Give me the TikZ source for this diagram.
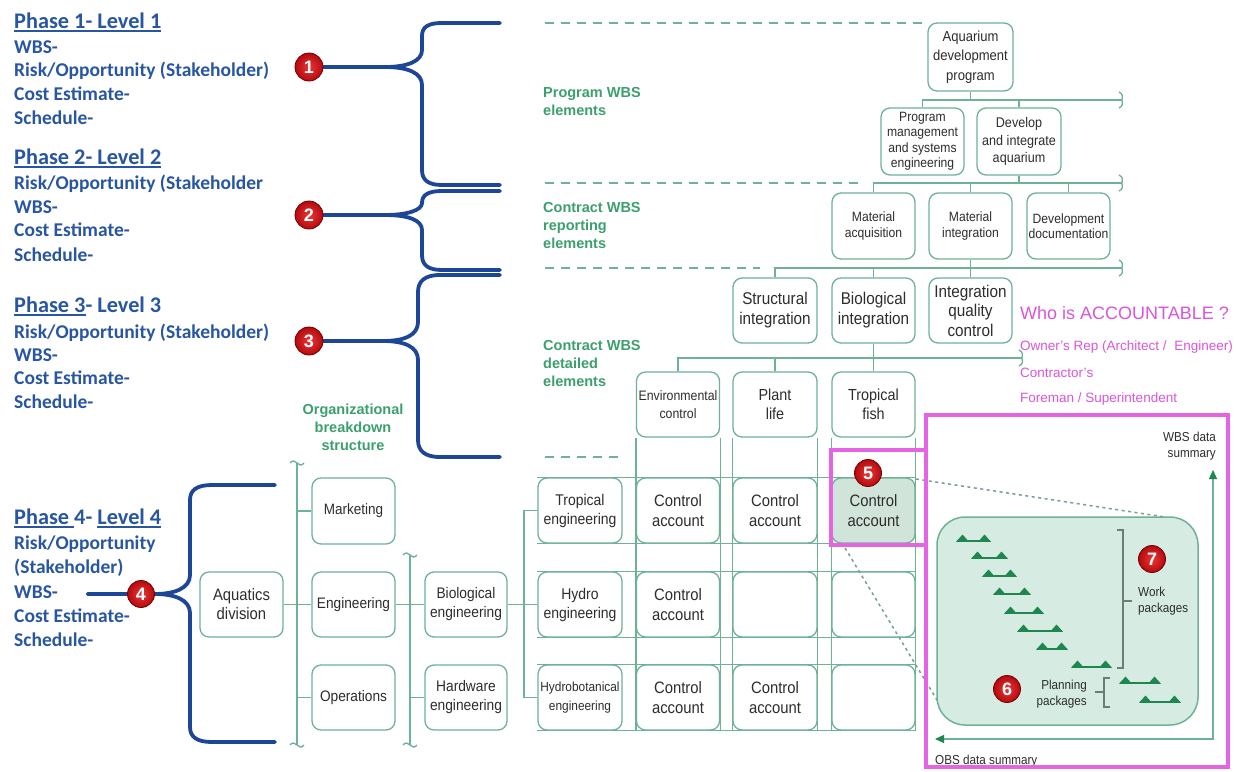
\documentclass[tikz,border=0pt]{standalone}
\usepackage{fontspec}
\setmainfont{Liberation Sans}
\newfontfamily\phfont{Carlito}
\newfontfamily\bxfont[FakeStretch=0.9]{Liberation Sans}
\usetikzlibrary{arrows.meta,shadings}
\pgfdeclarelayer{back}
\pgfdeclarelayer{bg}
\pgfsetlayers{back,bg,main}

\definecolor{phblue}{RGB}{40,86,160}
\definecolor{brblue}{RGB}{30,70,150}
\definecolor{gline}{RGB}{110,178,150}
\definecolor{glabel}{RGB}{60,160,110}
\definecolor{btext}{RGB}{45,45,45}
\definecolor{magtxt}{RGB}{218,85,218}
\definecolor{mframe}{RGB}{228,100,228}
\definecolor{pkgfill}{RGB}{214,236,226}
\definecolor{cafill}{RGB}{208,228,218}
\definecolor{gbarc}{RGB}{30,135,80}
\definecolor{dotc}{RGB}{120,160,140}
\definecolor{brk}{RGB}{110,125,115}
\definecolor{numin}{RGB}{235,55,55}
\definecolor{numout}{RGB}{180,10,15}
\definecolor{numedge}{RGB}{110,0,0}

\newsavebox\ulbox
\newcommand\phul[1]{\sbox\ulbox{#1}\rlap{\rule[-3.4pt]{\wd\ulbox}{1.5pt}}\usebox\ulbox}

\tikzset{
  box/.style={draw=gline, line width=1.3pt, rounded corners=9pt, fill=white, align=center,
    inner sep=1pt, text=btext, minimum width=83pt, minimum height=65pt},
  fz/.style 2 args={font=\bxfont\fontsize{#1}{#2}\selectfont},
  conn/.style={draw=gline, line width=1.3pt},
  sepline/.style={draw=gline, line width=1.3pt, dash pattern=on 9pt off 7pt},
  brace/.style={draw=brblue, line width=3.8pt, line cap=round, line join=round},
  numc/.style={circle, inner sep=0pt, minimum size=27pt, draw=numedge, line width=0.8pt,
    inner color=numin, outer color=numout, text=white, font=\bfseries\fontsize{18}{18}\selectfont},
  lt/.style={anchor=base west, inner sep=0pt, text=phblue, font=\phfont\bfseries\fontsize{19.5}{24}\selectfont},
  lth/.style={lt, font=\phfont\bfseries\fontsize{22.3}{24}\selectfont},
  glab/.style={align=left, anchor=base west, inner sep=0pt, text=glabel, font=\bfseries\fontsize{14.5}{18}\selectfont},
  mtxt/.style={anchor=base west, inner sep=0pt, text=magtxt},
  small/.style={inner sep=0pt, text=btext, font=\bxfont\fontsize{13}{16}\selectfont},
  mbox/.style={draw=mframe, line width=4pt},
  dotl/.style={draw=dotc, line width=1.5pt, dash pattern=on 3pt off 3.5pt},
  brkl/.style={draw=brk, line width=1.2pt},
  rcap/.pic={\draw[conn] (-3,-8) .. controls (1,-6) and (1,-3) .. (0,0) .. controls (1,3) and (1,6) .. (-3,8);},
  tcap/.pic={\draw[conn] (-7,0) .. controls (-4,-4) and (-2,-1) .. (0,0) .. controls (2,1) and (4,4) .. (7,0);},
  gbar/.pic={
    \fill[gbarc] (-1,0.8) -- (5.5,-6.5) -- (12,0.8) -- cycle;
    \fill[gbarc] (#1-12,0.8) -- (#1-5.5,-6.5) -- (#1+1,0.8) -- cycle;
    \draw[gbarc, line width=2pt] (0,0) -- (#1,0);},
}

\begin{document}
\begin{tikzpicture}[x=1pt,y=-1pt]
\begin{pgfonlayer}{back}
\fill[white] (0,0) rectangle (1236,771);
\end{pgfonlayer}
\useasboundingbox (0,0) rectangle (1236,771);

% ---------- phase texts ----------
\node[lth] (p1h) at (14,28.5) {\phul{Phase 1- Level 1}};
\node[lt] (p1a) at (14,53) {WBS-};
\node[lt] (p1b) at (14,76.5) {Risk/Opportunity (Stakeholder)};
\node[lt] (p1c) at (14,100) {Cost Estimate-};
\node[lt] (p1d) at (14,124) {Schedule-};
\node[lth] (p2h) at (14,164.5) {\phul{Phase 2- Level 2}};
\node[lt] (p2a) at (14,189) {Risk/Opportunity (Stakeholder};
\node[lt] (p2b) at (14,213) {WBS-};
\node[lt] (p2c) at (14,236.5) {Cost Estimate-};
\node[lt] (p2d) at (14,261) {Schedule-};
\node[lth] (p3h) at (14,312.5) {\phul{Phase 3}- Level 3};
\node[lt] (p3a) at (14,338) {Risk/Opportunity (Stakeholder)};
\node[lt] (p3b) at (14,361.5) {WBS-};
\node[lt] (p3c) at (14,384.5) {Cost Estimate-};
\node[lt] (p3d) at (14,408.5) {Schedule-};
\node[lth] (p4h) at (14,524.5) {\phul{Phase }4- \phul{Level 4}};
\node[lt] (p4a) at (14,549.5) {Risk/Opportunity};
\node[lt] (p4b) at (14,573.5) {(Stakeholder)};
\node[lt] (p4c) at (14,598) {WBS-};
\node[lt] (p4d) at (14,622) {Cost Estimate-};
\node[lt] (p4e) at (14,646) {Schedule-};

% ---------- level separators ----------
\draw[sepline] (545,23) -- (923,23);
\draw[sepline] (545,183) -- (863,183);
\draw[sepline] (545,268) -- (760,268);
\draw[sepline] (545,457) -- (623,457);

% ---------- green level labels (base = last line) ----------
\node[glab] (lbA) at (543,115) {Program WBS\\elements};
\node[glab] (lbB) at (543,248.5) {Contract WBS\\reporting\\elements};
\node[glab] (lbC) at (543,386) {Contract WBS\\detailed\\elements};
\node[glab, align=center, anchor=base] (lbD) at (353,450) {Organizational\\breakdown\\structure};

% ---------- program / contract WBS tree ----------
\node[box, fz={14.5}{19.5}, minimum width=85pt, minimum height=68pt] (aq) at (970.5,57) {Aquarium\\development\\program};
\node[box, fz={13.5}{15.5}, minimum height=67pt] (pm) at (922.5,141.5) {Program\\management\\and systems\\engineering};
\node[box, fz={14}{17.5}, minimum width=84pt, minimum height=67pt] (di) at (1019,141.5) {Develop\\and integrate\\aquarium};
\node[box, fz={13.5}{15.5}, minimum height=66pt] (ma) at (873.5,226) {Material\\acquisition};
\node[box, fz={13.5}{15.5}, minimum height=66pt] (mi) at (970.5,226) {Material\\integration};
\node[box, fz={13.5}{15.5}, minimum height=66pt] (dd) at (1068.5,226) {Development\\documentation};
\node[box, fz={17}{20}, minimum width=84pt] (si) at (775,310.5) {Structural\\integration};
\node[box, fz={17}{20}] (bi) at (873.5,310.5) {Biological\\integration};
\node[box, fz={17}{19.5}] (iq) at (970.5,310.5) {Integration\\quality\\control};
\node[box, fz={13.7}{18}] (ec) at (678,404.5) {Environmental\\control};
\node[box, fz={16}{19}, minimum width=84pt] (pl) at (775,404.5) {Plant\\life};
\node[box, fz={16}{19}] (tf) at (873.5,404.5) {Tropical\\fish};

\coordinate (bus1) at (1122,100);
\coordinate (bus2) at (1122,183);
\coordinate (bus3) at (1122,268);
\coordinate (bus4) at (1022,358);
\draw[conn] (aq.south) -- (aq.south |- bus1);
\draw[conn] (pm.north) |- (bus1);
\draw[conn] (di.north) -- (di.north |- bus1);
\draw[conn] (di.south) -- (di.south |- bus2);
\draw[conn] (ma.north) |- (bus2);
\draw[conn] (mi.north) -- (mi.north |- bus2);
\draw[conn] (dd.north) -- (dd.north |- bus2);
\draw[conn] (mi.south) -- (mi.south |- bus3);
\draw[conn] (si.north) |- (bus3);
\draw[conn] (bi.north) -- (bi.north |- bus3);
\draw[conn] (iq.north) -- (iq.north |- bus3);
\draw[conn] (bi.south) -- (bi.south |- bus4);
\draw[conn] (ec.north) |- (bus4);
\draw[conn] (pl.north) -- (pl.north |- bus4);
\draw[conn] (tf.north) -- (tf.north |- bus4);
\pic at (bus1) {rcap};
\pic at (bus2) {rcap};
\pic at (bus3) {rcap};
\pic at (bus4) {rcap};

% ---------- control account matrix ----------
\node[box, fz={15.5}{19}, minimum width=84pt] (te) at (580,510.5) {Tropical\\engineering};
\node[box, fz={15.5}{19}, minimum width=84pt] (hy) at (580,604.5) {Hydro\\engineering};
\node[box, fz={13.2}{19}, minimum width=84pt] (hb) at (580,697.5) {Hydrobotanical\\engineering};
\node[box, fz={16.5}{19.5}] (r1c1) at (678,510.5) {Control\\account};
\node[box, fz={16.5}{19.5}, minimum width=84pt] (r1c2) at (775,510.5) {Control\\account};
\node[box, fz={16.5}{19.5}, fill=cafill] (r1c3) at (873.5,510.5) {Control\\account};
\node[box, fz={16.5}{19.5}] (r2c1) at (678,604.5) {Control\\account};
\node[box, minimum width=84pt] (r2c2) at (775,604.5) {};
\node[box] (r2c3) at (873.5,604.5) {};
\node[box, fz={16.5}{19.5}] (r3c1) at (678,697.5) {Control\\account};
\node[box, fz={16.5}{19.5}, minimum width=84pt] (r3c2) at (775,697.5) {Control\\account};
\node[box] (r3c3) at (873.5,697.5) {};

\begin{pgfonlayer}{bg}
\foreach \c/\r in {ec/r3c1, pl/r3c2, tf/r3c3} {
  \draw[conn] (\c.south west) -- (\r.south west);
  \draw[conn] (\c.south east) -- (\r.south east);
}
\foreach \a/\b in {te/r1c3, hy/r2c3, hb/r3c3} {
  \draw[conn] (\a.north west) -- (\b.north east);
  \draw[conn] (\a.south west) -- (\b.south east);
}
\end{pgfonlayer}

% ---------- organizational breakdown structure ----------
\node[box, fz={16.5}{19}] (ad) at (241.5,604.5) {Aquatics\\division};
\node[box, fz={15}{19}, minimum height=66pt] (mk) at (353.5,511) {Marketing};
\node[box, fz={15.2}{19}] (en) at (353.5,604.5) {Engineering};
\node[box, fz={15.2}{19}] (op) at (353.5,697.5) {Operations};
\node[box, fz={15.3}{19}, minimum width=82pt] (be) at (466,604.5) {Biological\\engineering};
\node[box, fz={15.3}{19}, minimum width=82pt] (he) at (466,697.5) {Hardware\\engineering};

\coordinate (obT) at (297,463);
\coordinate (obB) at (297,745);
\coordinate (ob2T) at (410,555);
\coordinate (ob2B) at (410,745);
\coordinate (bbx) at (524,604.5);
\draw[conn] (obT) -- (obB);
\draw[conn] (ob2T) -- (ob2B);
\pic at (obT) {tcap};
\pic at (obB) {tcap};
\pic at (ob2T) {tcap};
\pic at (ob2B) {tcap};
\draw[conn] (ad.east) -- (ad.east -| obT);
\draw[conn] (mk.west) -- (mk.west -| obT);
\draw[conn] (en.west) -- (en.west -| obT);
\draw[conn] (op.west) -- (op.west -| obT);
\draw[conn] (en.east) -- (be.west);
\draw[conn] (he.west) -- (he.west -| ob2T);
\draw[conn] (be.east) -- (bbx);
\draw[conn] (te.west) -- (te.west -| bbx) -- (hb.west -| bbx) -- (hb.west);
\draw[conn] (hy.west) -- (hy.west -| bbx);

% ---------- accountability notes ----------
\node[mtxt, font=\fontsize{18}{20}\selectfont] (acc) at (1020,319.5) {Who is ACCOUNTABLE ?};
\node[mtxt, font=\fontsize{13.5}{16}\selectfont] (acc1) at (1020,350) {Owner's Rep (Architect /\ \ Engineer)};
\node[mtxt, font=\fontsize{13.5}{16}\selectfont] (acc2) at (1020,377) {Contractor's};
\node[mtxt, font=\fontsize{13.5}{16}\selectfont] (acc3) at (1020,402) {Foreman / Superintendent};

% ---------- work package detail ----------
\node[draw=gline, line width=1.5pt, fill=pkgfill, rounded corners=28pt, minimum width=261pt, minimum height=208pt, inner sep=0pt] (pkg) at (1067.5,621) {};

\coordinate (dA1) at (916,479);
\coordinate (dA2) at (1165,517);
\coordinate (dB1) at (845,548);
\coordinate (dB2) at (937,700);
\draw[dotl] (dA1) -- (dA2);
\draw[dotl] (dB1) -- (dB2);

\coordinate (obsend) at (935,739);
\coordinate (wbsend) at (1213,470);
\draw[conn, {Triangle[length=9pt,width=8pt,color=gbarc]}-{Triangle[length=9pt,width=8pt,color=gbarc]}] (obsend) -| (wbsend);
\node[small, align=right, anchor=base east] (wbsl) at (1216,457) {WBS data\\summary};
\node[small, anchor=base west] (obsl) at (935,764) {OBS data summary};

\pic at (957,541) {gbar=33};
\pic at (972,558) {gbar=35};
\pic at (983,576) {gbar=33};
\pic at (994,594) {gbar=36};
\pic at (1005,613) {gbar=38};
\pic at (1018,631) {gbar=44};
\pic at (1037,649) {gbar=30};
\pic at (1072,667) {gbar=39};
\pic at (1120,683) {gbar=40};
\pic at (1140,702) {gbar=40};

\draw[brkl] (1117,530) -- (1123,530) -- (1123,668) -- (1117,668);
\draw[brkl] (1123,601) -- (1132,601);
\draw[brkl] (1110,678) -- (1104,678) -- (1104,707) -- (1110,707);
\draw[brkl] (1104,692) -- (1095,692);
\node[small, align=left, anchor=base west] (wpl) at (1138,612) {Work\\packages};
\node[small, align=right, anchor=base east] (ppl) at (1087,705) {Planning\\packages};

% ---------- highlight frames ----------
\draw[mbox] (926,415) rectangle (1228,767);
\draw[mbox] (831,450) rectangle (926,545);

% ---------- braces ----------
\coordinate (b1t) at (500,23);
\coordinate (b1b) at (500,185);
\coordinate (b2t) at (500,191);
\coordinate (b2b) at (500,270);
\coordinate (b3t) at (500,275);
\coordinate (b3b) at (500,457);
\coordinate (b4t) at (275,485);
\coordinate (b4b) at (275,742);
\coordinate (b4l) at (88,594);

\node[numc, minimum size=28pt] (n1) at (309,67) {1};
\node[numc, minimum size=28pt] (n2) at (309,215) {2};
\node[numc, minimum size=28pt] (n3) at (309,341) {3};
\node[numc] (n4) at (141,594) {4};

\begin{pgfonlayer}{bg}
\draw[brace] (n1.east) -- (385,67) .. controls (408,67) and (422,61) .. (422,50) -- (422,36)
  .. controls (422,27) and (428,23) .. (442,23) -- (b1t);
\draw[brace] (385,67) .. controls (408,67) and (422,73) .. (422,85) -- (422,170)
  .. controls (422,180) and (428,185) .. (442,185) -- (b1b);
\draw[brace] (n2.east) -- (385,215) .. controls (408,215) and (422,210) .. (422,203)
  .. controls (422,195) and (428,191) .. (442,191) -- (b2t);
\draw[brace] (385,215) .. controls (408,215) and (422,220) .. (422,230) -- (422,255)
  .. controls (422,265) and (428,270) .. (442,270) -- (b2b);
\draw[brace] (n3.east) -- (383,341) .. controls (405,341) and (418,335) .. (418,322) -- (418,292)
  .. controls (418,281) and (425,275) .. (440,275) -- (b3t);
\draw[brace] (383,341) .. controls (405,341) and (418,347) .. (418,360) -- (418,440)
  .. controls (418,451) and (425,457) .. (440,457) -- (b3b);
\draw[brace] (b4l) -- (n4.west);
\draw[brace] (n4.east) .. controls (175,594) and (190,588) .. (190,575) -- (190,500)
  .. controls (190,490) and (197,485) .. (212,485) -- (b4t);
\draw[brace] (n4.east) .. controls (175,594) and (190,600) .. (190,613) -- (190,727)
  .. controls (190,737) and (197,742) .. (212,742) -- (b4b);
\end{pgfonlayer}

\node[numc] (n5) at (868,473) {5};
\node[numc] (n6) at (1007,689) {6};
\node[numc] (n7) at (1152,559) {7};
\end{tikzpicture}
\end{document}
